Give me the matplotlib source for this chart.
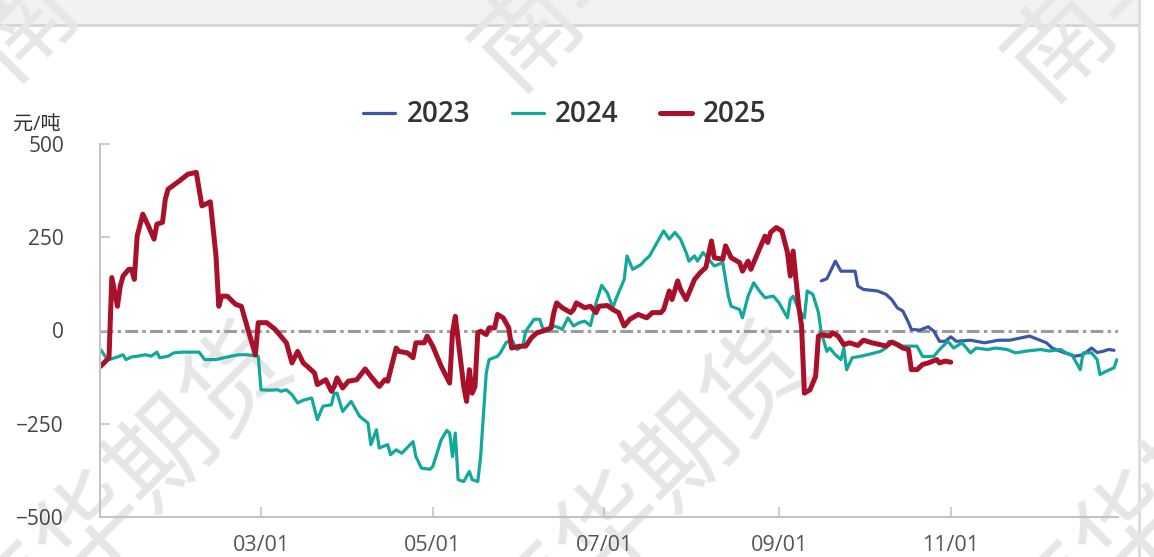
import pandas as pd
import matplotlib
matplotlib.use('Agg')
import matplotlib.pyplot as plt
import matplotlib.dates as mdates
from matplotlib.patches import Rectangle
from matplotlib.lines import Line2D

plt.rcParams['font.family'] = ['Open Sans', 'Noto Sans CJK SC', 'DejaVu Sans']
plt.rcParams['axes.unicode_minus'] = True

# 横轴统一映射到同一年 (非闰年) 上，按月/日对齐
BASE_YEAR = '2025'
years = ['2023', '2024', '2025']
colors = ['#3e56a8', '#12a89c', '#a9112b']
y_ticks = [500, 250, 0, -250, -500]
x_ticks = ['03-01', '05-01', '07-01', '09-01', '11-01']

dates_2023 = ['09-16', '09-18', '09-21', '09-23', '09-28', '09-29', '10-01', '10-06', '10-09', '10-11',
              '10-13', '10-15', '10-17', '10-18', '10-21', '10-24', '10-26', '10-28', '10-30', '11-01',
              '11-03', '11-08', '11-13', '11-18', '11-22', '11-29', '12-02', '12-05', '12-07', '12-10',
              '12-15', '12-18', '12-21', '12-23', '12-25', '12-27', '12-29']
vals_2023 = [133, 139, 186, 159, 159, 119, 110, 106, 97, 83,
             61, 52, 21, 3, 1, 10, -2, -29, -29, -17,
             -29, -26, -33, -26, -26, -15, -24, -33, -47, -56,
             -69, -65, -47, -59, -56, -51, -53]

dates_2024 = ['01-03', '01-05', '01-06', '01-09', '01-11', '01-12', '01-14', '01-16', '01-19', '01-21',
              '01-23', '01-24', '01-27', '01-29', '02-01', '02-04', '02-07', '02-09', '02-13', '02-17',
              '02-21', '02-24', '02-28', '03-01', '03-04', '03-07', '03-08', '03-10', '03-12', '03-14',
              '03-16', '03-19', '03-21', '03-23', '03-26', '03-27', '03-28', '03-30', '04-02', '04-05',
              '04-08', '04-09', '04-11', '04-12', '04-15', '04-16', '04-18', '04-20', '04-24', '04-25',
              '04-27', '04-30', '05-01', '05-04', '05-06', '05-07', '05-08', '05-09', '05-10', '05-12',
              '05-14', '05-15', '05-17', '05-18', '05-20', '05-21', '05-24', '05-25', '05-27', '05-29',
              '05-31', '06-02', '06-03', '06-06', '06-08', '06-09', '06-11', '06-13', '06-15', '06-16',
              '06-18', '06-20', '06-22', '06-24', '06-26', '06-28', '06-30', '07-02', '07-04', '07-05',
              '07-08', '07-09', '07-11', '07-14', '07-15', '07-17', '07-20', '07-22', '07-24', '07-26',
              '07-28', '07-30', '07-31', '08-02', '08-03', '08-05', '08-07', '08-09', '08-12', '08-14',
              '08-15', '08-18', '08-19', '08-21', '08-23', '08-25', '08-27', '08-30', '09-01', '09-04',
              '09-05', '09-06', '09-08', '09-10', '09-11', '09-13', '09-15', '09-16', '09-18', '09-19',
              '09-21', '09-23', '09-24', '09-25', '09-27', '09-30', '10-04', '10-07', '10-09', '10-10',
              '10-12', '10-15', '10-20', '10-22', '10-26', '10-28', '10-31', '11-02', '11-05', '11-08',
              '11-10', '11-14', '11-17', '11-21', '11-24', '11-28', '12-03', '12-06', '12-10', '12-12',
              '12-14', '12-17', '12-18', '12-21', '12-23', '12-24', '12-26', '12-29', '12-30']
vals_2024 = [-51, -73, -78, -71, -65, -78, -71, -69, -65, -69,
             -58, -73, -69, -60, -58, -58, -58, -78, -78, -71,
             -65, -65, -69, -159, -160, -159, -163, -159, -172, -194,
             -187, -181, -239, -203, -199, -168, -168, -217, -190, -230,
             -248, -306, -266, -315, -306, -333, -320, -329, -298, -338,
             -369, -372, -365, -293, -268, -275, -338, -275, -400, -405,
             -378, -400, -405, -338, -114, -78, -69, -60, -33, -24,
             -51, -42, -2, 30, 30, 7, -2, 12, 7, 3,
             34, 12, 21, 25, 13, 74, 121, 101, 61, 83,
             137, 200, 164, 177, 186, 200, 240, 267, 245, 263,
             245, 209, 186, 200, 186, 209, 191, 173, 182, 92,
             65, 56, 34, 92, 128, 106, 88, 92, 74, 34,
             83, 92, 56, 34, 106, 97, 48, -6, -56, -47,
             -65, -78, -47, -105, -73, -69, -62, -56, -47, -29,
             -31, -42, -42, -70, -69, -51, -29, -47, -33, -60,
             -47, -51, -47, -51, -60, -55, -51, -55, -51, -60,
             -65, -105, -60, -60, -78, -118, -110, -100, -78]

dates_2025 = ['01-03', '01-06', '01-07', '01-09', '01-10', '01-11', '01-13', '01-14', '01-15', '01-16',
              '01-18', '01-20', '01-22', '01-23', '01-25', '01-26', '01-27', '01-31', '02-03', '02-06',
              '02-08', '02-11', '02-13', '02-14', '02-15', '02-17', '02-20', '02-22', '02-24', '02-27',
              '02-28', '03-03', '03-06', '03-08', '03-10', '03-12', '03-14', '03-16', '03-18', '03-20',
              '03-21', '03-24', '03-26', '03-27', '03-28', '03-30', '04-01', '04-04', '04-07', '04-09',
              '04-12', '04-14', '04-15', '04-18', '04-19', '04-22', '04-24', '04-25', '04-28', '04-29',
              '05-01', '05-04', '05-07', '05-08', '05-09', '05-10', '05-12', '05-13', '05-14', '05-15',
              '05-16', '05-17', '05-18', '05-20', '05-21', '05-23', '05-24', '05-26', '05-28', '05-29',
              '06-01', '06-03', '06-05', '06-07', '06-09', '06-12', '06-13', '06-14', '06-16', '06-19',
              '06-20', '06-21', '06-24', '06-26', '06-28', '06-29', '07-02', '07-04', '07-06', '07-08',
              '07-10', '07-13', '07-16', '07-18', '07-21', '07-22', '07-24', '07-25', '07-27', '07-28',
              '07-30', '08-02', '08-04', '08-06', '08-08', '08-09', '08-12', '08-13', '08-15', '08-18',
              '08-19', '08-21', '08-22', '08-24', '08-27', '08-28', '08-29', '08-31', '09-02', '09-04',
              '09-05', '09-06', '09-07', '09-08', '09-09', '09-10', '09-12', '09-14', '09-15', '09-16',
              '09-19', '09-20', '09-22', '09-24', '09-26', '09-29', '10-01', '10-04', '10-07', '10-09',
              '10-11', '10-13', '10-15', '10-17', '10-18', '10-20', '10-22', '10-24', '10-27', '10-28',
              '10-30', '11-01']
vals_2025 = [-96, -73, 142, 65, 119, 146, 164, 164, 137, 253,
             312, 280, 245, 285, 290, 352, 379, 401, 419, 424,
             334, 345, 200, 65, 92, 92, 70, 65, 12, -65,
             21, 21, 3, -15, -33, -87, -56, -87, -100, -114,
             -145, -132, -163, -150, -127, -154, -136, -132, -103, -123,
             -150, -132, -136, -47, -56, -60, -73, -33, -33, -15,
             -42, -96, -141, -6, 38, -24, -150, -190, -105, -168,
             -150, -6, -2, -11, 7, 7, 43, 34, 7, -47,
             -42, -42, -20, -6, -2, 7, 48, 74, 61, 48,
             56, 74, 61, 65, 48, 65, 67, 56, 48, 12,
             30, 43, 34, 48, 48, 56, 106, 83, 133, 110,
             83, 137, 155, 169, 240, 195, 191, 227, 195, 182,
             159, 186, 164, 200, 253, 236, 263, 276, 267, 209,
             146, 213, 137, 65, 12, -168, -159, -123, -15, -11,
             -15, -6, -15, -38, -33, -40, -26, -33, -38, -42,
             -31, -38, -47, -51, -105, -105, -91, -87, -78, -87,
             -82, -85]

series_dates = [dates_2023, dates_2024, dates_2025]
series_vals = [vals_2023, vals_2024, vals_2025]
line_widths = [2.3, 2.3, 3.6]


def to_dates(md):
    return pd.to_datetime([f'{BASE_YEAR}-{d}' for d in md])


W, H = 1154, 557
fig = plt.figure(figsize=(W / 100, H / 100), dpi=100)

# 顶部标题栏 (被裁切) 和右侧边框
fig.patches.append(Rectangle((0, 1 - 24 / H), 1138 / W, 24 / H, transform=fig.transFigure,
                             facecolor='#f2f2f2', edgecolor='none', zorder=0))
fig.add_artist(Line2D([0, 1138 / W], [1 - 25 / H] * 2, color='#d4d4d4', lw=2, zorder=0))
fig.add_artist(Line2D([1139 / W] * 2, [0, 1], color='#dcdcdc', lw=2, zorder=0))

# 水印
for cx, cy in [(128, 490), (648, 490), (1168, 490), (135, -85), (640, -75), (1173, -65)]:
    fig.text(cx / W, 1 - cy / H, '南华期货', rotation=45, rotation_mode='anchor',
             ha='center', va='center', fontsize=75, color='#e6e6e6',
             family=['Noto Sans CJK SC'], zorder=0)

ax = fig.add_axes([100 / W, 1 - 517 / H, 1018 / W, 373 / H])
ax.set_zorder(1)
ax.patch.set_alpha(0)

ax.axhline(0, color='#9b9b9b', lw=2.2, linestyle=(0, (4.2, 1.4, 1.1, 1.4)), zorder=1)

handles = []
for yr, d, v, c, lw in zip(years, series_dates, series_vals, colors, line_widths):
    assert len(d) == len(v), yr
    ln, = ax.plot(to_dates(d), v, color=c, lw=lw, label=yr, zorder=2,
                  solid_joinstyle='round', solid_capstyle='round')
    handles.append(ln)

start = pd.Timestamp(f'{BASE_YEAR}-01-01')
ax.set_xlim(start + pd.Timedelta(days=1.8), start + pd.Timedelta(days=363.4))
ax.set_ylim(-500, 500)
ax.set_yticks(y_ticks)
ax.set_xticks(to_dates(x_ticks))
ax.xaxis.set_major_formatter(mdates.DateFormatter('%m/%d'))

for s in ['top', 'right']:
    ax.spines[s].set_visible(False)
for s in ['left', 'bottom']:
    ax.spines[s].set_color('#c4c4c4')
    ax.spines[s].set_linewidth(1.5)

ax.tick_params(axis='both', direction='in', length=7, width=1.2, color='#c4c4c4')
ax.tick_params(axis='y', pad=26, labelsize=15, labelcolor='#444444')
ax.tick_params(axis='x', pad=13, labelsize=15.5, labelcolor='#555555')

fig.text(13 / W, 1 - 126 / H, '元/吨', ha='left', va='center', fontsize=14.5, color='#333333')

fig.legend(handles, years, loc='center', bbox_to_anchor=(565 / W, 1 - 115 / H), ncol=3,
           frameon=False, prop={'size': 20, 'weight': 'semibold'}, labelcolor='#333333',
           handlelength=1.15, handletextpad=0.4, columnspacing=1.5)

fig.savefig('out.png', dpi=100)
